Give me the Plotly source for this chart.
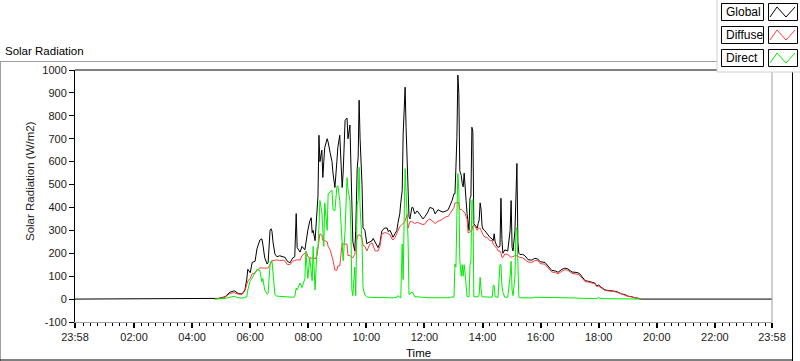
import plotly.graph_objects as go

# ---------------- data ----------------
DAY = "2023-01-01 "
PREV_DAY = "2022-12-31 "

times = [
    "04:47","04:54","05:08","05:18","05:27","05:35","05:43","05:49","05:53","05:55",
    "06:00","06:04","06:10","06:14","06:20","06:24","06:26","06:30","06:35","06:37",
    "06:41","06:43","06:45","06:47","06:51","06:55","07:01","07:08","07:12","07:16",
    "07:22","07:28","07:32","07:35","07:37","07:43","07:47","07:53","07:55","07:57",
    "07:59","08:03","08:06","08:08","08:10","08:14","08:18","08:20","08:22","08:24",
    "08:28","08:30","08:32","08:34","08:39","08:41","08:45","08:49","08:51","08:55",
    "08:59","09:01","09:05","09:10","09:12","09:16","09:20","09:22","09:26","09:28",
    "09:30","09:32","09:36","09:38","09:41","09:43","09:45","09:47","09:51","09:53",
    "09:57","10:01","10:03","10:07","10:12","10:14","10:18","10:24","10:28","10:32",
    "10:38","10:43","10:45","10:49","10:53","10:55","10:59","11:03","11:05","11:09",
    "11:11","11:14","11:16","11:18","11:20","11:22","11:24","11:26","11:28","11:30",
    "11:34","11:36","11:40","11:45","11:51","11:57","12:01","12:07","12:11","12:18",
    "12:22","12:28","12:32","12:38","12:45","12:49","12:53","12:57","13:01","13:03",
    "13:05","13:07","13:09","13:11","13:13","13:16","13:18","13:20","13:22","13:24",
    "13:26","13:28","13:30","13:32","13:34","13:36","13:38","13:40","13:42","13:44",
    "13:49","13:51","13:53","13:55","13:57","13:59","14:01","14:05","14:09","14:15",
    "14:20","14:22","14:24","14:26","14:30","14:32","14:36","14:38","14:40","14:42",
    "14:46","14:52","14:57","14:59","15:01","15:03","15:07","15:09","15:11","15:13",
    "15:15","15:17","15:23","15:28","15:34","15:42","15:48","15:54","15:59","16:09",
    "16:15","16:23","16:30","16:36","16:44","16:50","16:56","17:05","17:11","17:17",
    "17:21","17:32","17:38","17:46","17:52","17:56","18:00","18:03","18:13","18:19",
    "18:27","18:34","18:40","18:48","18:54","19:00","19:09","19:15","19:21","19:27",
]

global_wm2 = [
    0, 3, 10, 30, 36, 25, 22, 40, 88, 130,
    115, 160, 165, 220, 258, 263, 240, 180, 153, 160,
    300, 307, 295, 250, 197, 185, 189, 185, 182, 167,
    158, 180, 185, 373, 225, 205, 230, 215, 250, 276,
    300, 340, 355, 290, 300, 255, 386, 450, 715, 600,
    650, 531, 600, 662, 700, 685, 640, 600, 550, 487,
    600, 662, 715, 487, 550, 780, 790, 700, 760, 600,
    490, 250, 210, 300, 570, 620, 868, 700, 500, 312,
    300, 241, 245, 250, 255, 265, 250, 225, 245, 298,
    310, 310, 295, 300, 280, 270, 285, 300, 330, 372,
    420, 474, 720, 840, 925, 750, 600, 400, 360, 350,
    400, 400, 372, 385, 370, 350, 360, 380, 400, 395,
    372, 390, 385, 380, 385, 390, 410, 430, 460, 460,
    575, 706, 978, 898, 560, 540, 505, 490, 550, 505,
    430, 373, 315, 300, 440, 450, 750, 730, 330, 325,
    310, 330, 345, 420, 390, 320, 305, 298, 285, 270,
    262, 255, 285, 250, 230, 226, 230, 440, 260, 200,
    215, 210, 300, 430, 226, 210, 300, 520, 592, 250,
    200, 195, 195, 188, 172, 170, 178, 175, 163, 160,
    145, 125, 123, 117, 130, 135, 132, 118, 117, 115,
    110, 80, 78, 74, 70, 57, 62, 55, 40, 38,
    37, 34, 30, 22, 20, 13, 10, 5, 4, 0,
]

diffuse_wm2 = [
    0, 2, 8, 25, 28, 22, 20, 35, 70, 79,
    90, 110, 114, 125, 136, 138, 136, 135, 136, 136,
    150, 160, 167, 168, 170, 171, 168, 170, 165, 152,
    150, 165, 168, 170, 172, 170, 190, 200, 205, 200,
    185, 180, 180, 178, 182, 175, 190, 230, 270, 285,
    280, 255, 255, 255, 250, 230, 215, 190, 170, 127,
    125, 145, 145, 245, 240, 240, 240, 190, 190, 185,
    180, 180, 195, 230, 268, 280, 280, 280, 265, 235,
    230, 210, 220, 240, 245, 230, 210, 210, 230, 285,
    290, 288, 285, 280, 262, 258, 268, 290, 300, 315,
    320, 325, 330, 335, 340, 355, 370, 310, 330, 338,
    338, 335, 330, 335, 330, 325, 328, 345, 350, 335,
    330, 340, 342, 350, 360, 360, 375, 390, 400, 420,
    420, 420, 425, 420, 390, 392, 388, 385, 380, 375,
    360, 350, 290, 290, 292, 300, 300, 320, 320, 320,
    300, 310, 310, 310, 300, 285, 280, 270, 270, 255,
    255, 240, 235, 232, 220, 210, 210, 200, 182, 182,
    197, 195, 185, 182, 185, 185, 190, 190, 190, 188,
    185, 182, 180, 172, 162, 160, 168, 168, 155, 152,
    138, 118, 116, 110, 122, 128, 126, 112, 110, 108,
    103, 76, 75, 70, 67, 55, 56, 52, 38, 36,
    35, 32, 28, 21, 18, 12, 9, 5, 3, 0,
]

direct_wm2 = [
    0, 1, 3, 8, 12, 6, 4, 8, 10, 40,
    80, 92, 115, 130, 125, 75, 90, 40, 22, 25,
    150, 167, 165, 120, 20, 13, 12, 10, 8, 8,
    6, 8, 10, 48, 40, 70, 50, 90, 210, 150,
    90, 180, 120, 80, 230, 40, 224, 224, 310, 430,
    380, 300, 230, 420, 300, 460, 470, 475, 390, 386,
    490, 495, 430, 270, 167, 300, 530, 480, 430, 300,
    40, 15, 140, 15, 415, 430, 575, 400, 250, 50,
    18, 10, 8, 8, 7, 6, 6, 6, 6, 7,
    8, 6, 6, 6, 5, 5, 7, 8, 15, 10,
    5, 240, 85, 346, 570, 470, 330, 270, 20, 25,
    30, 28, 10, 10, 8, 8, 7, 6, 6, 5,
    5, 5, 5, 5, 5, 6, 6, 10, 8, 153,
    140, 365, 548, 474, 170, 100, 150, 100, 150, 110,
    40, 12, 10, 10, 147, 170, 430, 435, 10, 10,
    10, 10, 20, 95, 40, 10, 10, 9, 8, 8,
    8, 60, 60, 10, 8, 8, 150, 150, 60, 30,
    8, 8, 100, 165, 40, 15, 100, 300, 312, 200,
    8, 6, 5, 5, 6, 5, 8, 8, 6, 5,
    5, 5, 5, 5, 7, 6, 5, 5, 5, 4,
    3, 3, 3, 3, 2, 2, 8, 2, 2, 2,
    2, 2, 2, 2, 2, 1, 1, 1, 1, 0,
]

# Global is logged all day (zero at night)
night_start_time = PREV_DAY + "23:58"
night_end_time = DAY + "23:58"
night_value = 0

assert len(times) == len(global_wm2) == len(diffuse_wm2) == len(direct_wm2)

x_tick_times = [PREV_DAY + "23:58"] + [DAY + h for h in
                ["02:00", "04:00", "06:00", "08:00", "10:00", "12:00",
                 "14:00", "16:00", "18:00", "20:00", "22:00", "23:58"]]
x_tick_labels = ["23:58", "02:00", "04:00", "06:00", "08:00", "10:00", "12:00",
                 "14:00", "16:00", "18:00", "20:00", "22:00", "23:58"]
y_ticks = [-100, 0, 100, 200, 300, 400, 500, 600, 700, 800, 900, 1000]
y_tick_labels = ["-100", "0", "100", "200", "300", "400", "500", "600",
                 "700", "800", "900", "1000"]

series_names = ["Global", "Diffuse", "Direct"]
series_colors = ["#000000", "#ff3c3c", "#00ee00"]

# ---------------- figure ----------------
W, H = 800, 361
L, R, T, B = 75, 772, 70, 322   # plot area in pixels
FONT = "Liberation Sans"

def px(x):
    return (x - L) / (R - L)

def py(y):
    return (B - y) / (B - T)

x_day = [DAY + t for t in times]

fig = go.Figure()
fig.add_trace(go.Scatter(
    x=[night_start_time] + x_day + [night_end_time],
    y=[night_value] + global_wm2 + [night_value],
    mode="lines", name=series_names[0],
    line=dict(color=series_colors[0], width=1), showlegend=False))
fig.add_trace(go.Scatter(
    x=x_day, y=diffuse_wm2, mode="lines", name=series_names[1],
    line=dict(color=series_colors[1], width=1), showlegend=False))
fig.add_trace(go.Scatter(
    x=x_day, y=direct_wm2, mode="lines", name=series_names[2],
    line=dict(color=series_colors[2], width=1), showlegend=False))

shapes = []
# plot frame: top black, right gray
shapes.append(dict(type="line", xref="paper", yref="paper", x0=0, x1=1, y0=1, y1=1,
                   line=dict(color="black", width=1)))
shapes.append(dict(type="line", xref="paper", yref="paper", x0=1, x1=1, y0=0, y1=1,
                   line=dict(color="#a0a0a0", width=1)))
# outer panel frame
shapes.append(dict(type="line", xref="paper", yref="paper", x0=px(0), x1=px(717),
                   y0=py(61.5), y1=py(61.5), line=dict(color="#a0a0a0", width=1)))
shapes.append(dict(type="line", xref="paper", yref="paper", x0=px(0.5), x1=px(0.5),
                   y0=py(61.5), y1=py(361), line=dict(color="#a0a0a0", width=1)))
shapes.append(dict(type="line", xref="paper", yref="paper", x0=px(0), x1=px(793),
                   y0=py(360), y1=py(360), line=dict(color="black", width=1)))
shapes.append(dict(type="line", xref="paper", yref="paper", x0=px(792.5), x1=px(792.5),
                   y0=py(72), y1=py(361), line=dict(color="black", width=1)))
# legend panel
shapes.append(dict(type="rect", xref="paper", yref="paper", x0=px(717), x1=px(801),
                   y0=py(72), y1=py(-2), fillcolor="white",
                   line=dict(color="#d0d0d0", width=1)))

annotations = []
row_tops = [3, 26, 49]
for name, color, top in zip(series_names, series_colors, row_tops):
    shapes.append(dict(type="rect", xref="paper", yref="paper", x0=px(721.5), x1=px(763.5),
                       y0=py(top + 17.5), y1=py(top + 0.5), fillcolor="white",
                       line=dict(color="black", width=1)))
    shapes.append(dict(type="rect", xref="paper", yref="paper", x0=px(768.5), x1=px(797.5),
                       y0=py(top + 17.5), y1=py(top + 0.5), fillcolor="white",
                       line=dict(color="black", width=1)))
    path = "M {},{} L {},{} L {},{} L {},{}".format(
        px(770), py(top + 14), px(777), py(top + 4),
        px(786), py(top + 14), px(795), py(top + 4))
    shapes.append(dict(type="path", xref="paper", yref="paper", path=path,
                       line=dict(color=color, width=1)))
    annotations.append(dict(xref="paper", yref="paper", x=px(724), y=py(top + 9),
                            xanchor="left", yanchor="middle", text=name, showarrow=False,
                            font=dict(family=FONT, size=12, color="black")))

annotations.append(dict(xref="paper", yref="paper", x=px(3), y=py(51),
                        xanchor="left", yanchor="middle", text="Solar Radiation",
                        showarrow=False, font=dict(family=FONT, size=11.5, color="black")))
annotations.append(dict(xref="paper", yref="paper", x=px(30), y=py(181),
                        xanchor="center", yanchor="middle", text="Solar Radiation (W/m2)",
                        textangle=-90, showarrow=False,
                        font=dict(family=FONT, size=11.5, color="#222222")))
annotations.append(dict(xref="paper", yref="paper", x=px(418), y=py(353),
                        xanchor="center", yanchor="middle", text="Time",
                        showarrow=False, font=dict(family=FONT, size=11.5, color="black")))

fig.update_layout(
    width=W, height=H,
    margin=dict(l=L, r=W - R, t=T, b=H - B, pad=0),
    paper_bgcolor="white", plot_bgcolor="white",
    showlegend=False,
    font=dict(family=FONT, size=11, color="#1a1a1a"),
    shapes=shapes, annotations=annotations,
    hovermode=False,
)
fig.update_xaxes(
    type="date",
    range=[x_tick_times[0], x_tick_times[-1]],
    tickmode="array", tickvals=x_tick_times, ticktext=x_tick_labels,
    ticks="outside", ticklen=5, tickwidth=2, tickcolor="black",
    showline=True, linecolor="#a0a0a0", linewidth=1,
    showgrid=False, zeroline=False,
    tickfont=dict(family=FONT, size=11, color="#1a1a1a"),
    minor=dict(ticks="outside", ticklen=3, tickwidth=1, tickcolor="black",
               dtick=15 * 60 * 1000, tick0=DAY + "00:00", showgrid=False),
)
fig.update_yaxes(
    range=[-100, 1000],
    tickmode="array", tickvals=y_ticks, ticktext=y_tick_labels,
    ticks="outside", ticklen=5, tickcolor="black",
    showline=True, linecolor="black", linewidth=1,
    showgrid=False, zeroline=False,
    tickfont=dict(family=FONT, size=11, color="#1a1a1a"),
)

fig.write_html("out.html",
               config={"displayModeBar": False, "staticPlot": True},
               post_script="document.body.style.margin='0px';document.body.style.overflow='hidden';")
